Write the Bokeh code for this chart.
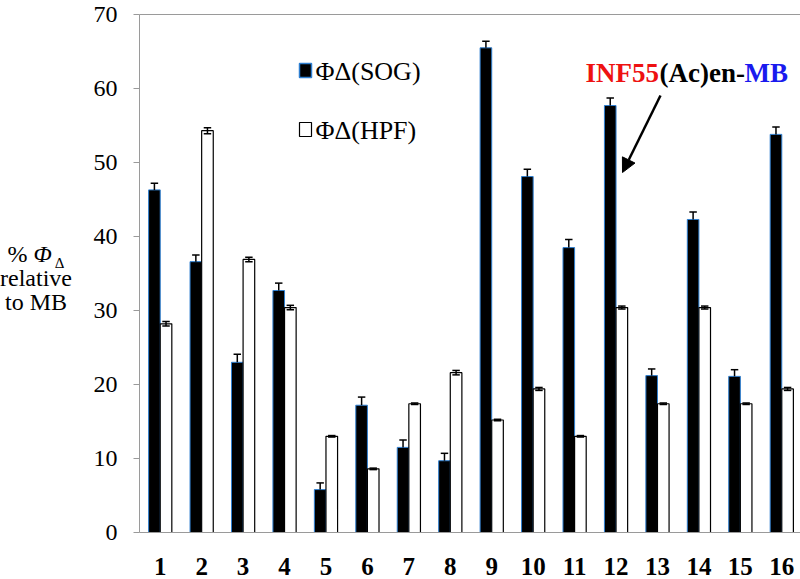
from bokeh.plotting import figure
from bokeh.models import Range1d, LinearAxis, Label, Arrow, NormalHead, FixedTicker, Div, InlineStyleSheet
from bokeh.layouts import row
from bokeh.embed import file_html
from bokeh.resources import INLINE

categories = [str(i) for i in range(1, 17)]
sog = [46.3, 36.6, 23.0, 32.7, 5.8, 17.2, 11.5, 9.7, 65.5, 48.1, 38.5, 57.7, 21.2, 42.3, 21.1, 53.8]
sog_err = [0.9, 0.9, 1.1, 1.0, 0.9, 1.1, 1.0, 1.0, 0.9, 1.0, 1.1, 1.0, 0.9, 1.0, 0.9, 1.0]
hpf = [28.2, 54.3, 36.9, 30.4, 13.0, 8.6, 17.4, 21.6, 15.2, 19.4, 13.0, 30.4, 17.4, 30.4, 17.4, 19.4]
hpf_err = [0.3, 0.4, 0.3, 0.3, 0.1, 0.1, 0.1, 0.3, 0.1, 0.2, 0.1, 0.2, 0.1, 0.2, 0.1, 0.2]
y_ticks = [0, 10, 20, 30, 40, 50, 60, 70]

FONT = "Liberation Serif"
BW = 0.28
xs = list(range(1, 17))
x_sog = [x - BW / 2 for x in xs]
x_hpf = [x + BW / 2 for x in xs]

DIV_W = 72
p = figure(frame_width=663, frame_height=518, output_backend="svg", toolbar_location=None,
           x_range=Range1d(0.5, 16.5), y_range=Range1d(0, 70),
           min_border_left=57, min_border_right=0, min_border_top=14, min_border_bottom=47)
p.xgrid.visible = False
p.ygrid.visible = False
p.outline_line_color = None
p.background_fill_color = "white"

p.vbar(x=x_sog, top=sog, width=BW, fill_color="black", line_color="#2f7fd0", line_width=1)
p.vbar(x=x_hpf, top=hpf, width=BW, fill_color="white", line_color="black", line_width=1.2)

# error bars
cap = 0.09
su = [v + e for v, e in zip(sog, sog_err)]
p.segment(x0=x_sog, y0=sog, x1=x_sog, y1=su, line_color="black", line_width=1.5)
p.segment(x0=[x - cap for x in x_sog], y0=su, x1=[x + cap for x in x_sog], y1=su, line_color="black", line_width=1.5)
hl = [v - e for v, e in zip(hpf, hpf_err)]
hu = [v + e for v, e in zip(hpf, hpf_err)]
p.segment(x0=x_hpf, y0=hl, x1=x_hpf, y1=hu, line_color="black", line_width=1.5)
p.segment(x0=[x - cap for x in x_hpf], y0=hu, x1=[x + cap for x in x_hpf], y1=hu, line_color="black", line_width=1.5)
p.segment(x0=[x - cap for x in x_hpf], y0=hl, x1=[x + cap for x in x_hpf], y1=hl, line_color="black", line_width=1.5)

# axes
p.xaxis.ticker = FixedTicker(ticks=xs)
p.xaxis.major_label_overrides = {i: c for i, c in zip(xs, categories)}
p.xaxis.major_tick_line_color = None
p.xaxis.minor_tick_line_color = None
p.xaxis.axis_line_color = "#9a9a9a"
p.xaxis.major_label_text_font = FONT
p.xaxis.major_label_text_font_style = "bold"
p.xaxis.major_label_text_font_size = "25px"
p.xaxis.major_label_text_color = "black"
p.xaxis.major_label_standoff = 19

p.yaxis.ticker = FixedTicker(ticks=y_ticks)
p.yaxis.minor_tick_line_color = None
p.yaxis.axis_line_color = "#9a9a9a"
p.yaxis.major_tick_line_color = "#9a9a9a"
p.yaxis.major_tick_out = 6
p.yaxis.major_tick_in = 0
p.yaxis.major_label_text_font = FONT
p.yaxis.major_label_text_font_size = "24px"
p.yaxis.major_label_text_color = "black"
p.yaxis.major_label_standoff = 16

top_axis = LinearAxis(ticker=FixedTicker(ticks=[]), axis_line_color="#9a9a9a",
                      major_label_text_font_size="0px", major_tick_line_color=None, minor_tick_line_color=None)
p.add_layout(top_axis, "above")

def dx(px):
    return 0.5 + (px - 137) / 41.4375

def dy(py):
    return (532 - py) / 7.4

# legend
p.rect(x=[dx(303)], y=[dy(70)], width=12, height=14, width_units="screen", height_units="screen",
       fill_color="black", line_color="#2f7fd0", line_width=1.5)
p.rect(x=[dx(303)], y=[dy(129)], width=12, height=14, width_units="screen", height_units="screen",
       fill_color="white", line_color="black", line_width=1.2)
p.add_layout(Label(x=dx(313), y=dy(71), text="ΦΔ(SOG)", text_font=FONT, text_font_size="26px",
                   text_baseline="middle", text_align="left", text_color="black"))
p.add_layout(Label(x=dx(313), y=dy(130), text="ΦΔ(HPF)", text_font=FONT, text_font_size="26px",
                   text_baseline="middle", text_align="left", text_color="black"))

# annotation
for txt, px, col in [("INF55", 583, "#ee1111"), ("(Ac)en-", 657, "black"), ("MB", 742, "#1a1aee")]:
    p.add_layout(Label(x=dx(px), y=dy(72), text=txt, text_font=FONT, text_font_style="bold",
                       text_font_size="27px", text_color=col, text_baseline="middle", text_align="left"))
p.add_layout(Arrow(end=NormalHead(size=14, fill_color="black", line_color="black"),
                   x_start=dx(658), y_start=dy(95), x_end=dx(620), y_end=dy(172),
                   line_color="black", line_width=2.5))

# y-axis title (three lines) as HTML beside the plot
FAM = "Liberation Serif, Tinos, Times New Roman, Times, DejaVu Serif, serif"
css = (
    ":host { font-family: " + FAM + " !important; }"
    "div, span, i { font-family: " + FAM + " !important; }"
    ".yl { font-size: 24px; line-height: 24px; text-align: center; color: black;"
    " width: 82px; margin-left: -10px; padding-top: 237px; }"
    ".yl .sub { font-size: 15px; line-height: 0; position: relative; top: 6px; margin-left: 3px; }"
)
ylabel_html = (
    '<div class="yl" style="font-family: ' + FAM + ';">'
    '% <i>Φ</i><span class="sub">Δ</span><br>relative<br>to MB</div>'
)
ylabel = Div(text=ylabel_html, width=DIV_W, height=571,
             stylesheets=[InlineStyleSheet(css=css)],
             styles={"font-family": FAM})

layout = row(ylabel, p)
open("out.html", "w").write(file_html(layout, INLINE))
